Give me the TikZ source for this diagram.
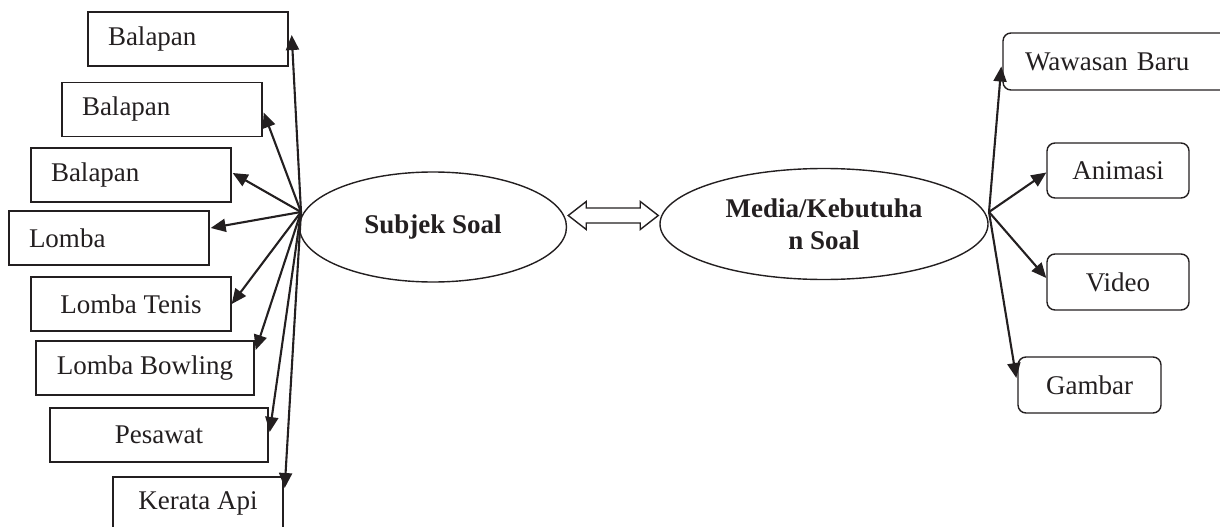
\documentclass[tikz,border=0pt]{standalone}
\usepackage{fontspec}
\setmainfont{Liberation Serif}
\usetikzlibrary{arrows.meta,calc,shapes.geometric}
\definecolor{ink}{RGB}{35,31,32}
\begin{document}
\begin{tikzpicture}[x=1pt,y=-1pt,
  font=\fontsize{27}{32}\selectfont,
  box/.style={draw=ink, line width=1.4pt, inner sep=0pt, text=ink},
  lbox/.style={box, inner xsep=20pt, inner ysep=0pt, align=left, text width=160pt, minimum height=54pt},
  cbox/.style={box, minimum height=54pt},
  rbox/.style={box, rounded corners=8pt, minimum height=56pt},
  oval/.style={ellipse, draw=ink, line width=1.4pt, inner sep=0pt, text=ink, font=\fontsize{27}{32}\selectfont\bfseries, align=center},
  arr/.style={draw=ink, line width=2.1pt, -{Triangle[length=15pt,width=13pt]}},
  hollow/.style={draw=ink, line width=1.4pt, fill=white}]
\useasboundingbox (0,0) rectangle (1220,527);
\clip (0,0) rectangle (1220,527);

% central ellipses
\node[oval, minimum width=267pt, minimum height=110pt] (s) at (433,227) {Subjek Soal};
\node[oval, minimum width=328pt, minimum height=111pt] (m) at (824,224) {Media/Kebutuha\\n Soal};

% double arrow between ellipses
\coordinate (dac) at ($(s.east)!0.5!(m.west)+(0,-10)$);
\draw[hollow] ($(dac)+(-45,0)$) -- ++(18,-14) -- ++(0,6.5) -- ++(54,0) -- ++(0,-6.5)
  -- ++(18,14) -- ++(-18,14) -- ++(0,-6.5) -- ++(-54,0) -- ++(0,6.5) -- cycle;

% left boxes
\node[lbox] (b1) at (188,39) {Balapan};
\node[lbox] (b2) at (162,109.5) {Balapan};
\node[lbox] (b3) at (131,175) {Balapan};
\node[lbox] (lomba) at (109,238) {Lomba};
\node[cbox, minimum width=200pt] (tenis) at (131,304) {Lomba Tenis};
\node[cbox, minimum width=218pt] (bowling) at (145,368) {Lomba Bowling};
\node[cbox, minimum width=218pt] (pesawat) at (159,435) {Pesawat};
\node[cbox, minimum width=170pt, minimum height=52pt] (kerata) at (198,503) {Kerata Api};

% right boxes
\node[rbox, inner xsep=22pt, align=left, text width=193pt, minimum height=57pt] (wawasan) at (1121.5,61.5) {Wawasan Baru};
\node[rbox, minimum width=142pt, minimum height=55pt] (animasi) at (1118,170.5) {Animasi};
\node[rbox, minimum width=142pt] (video) at (1118,282) {Video};
\node[rbox, minimum width=143pt] (gambar) at (1089.5,385) {Gambar};

% hubs
\coordinate (hubL) at (301,212);
\coordinate (hubR) at (989,212);

% left connectors
\draw[arr] (hubL) -- ($(b1.east)+(3,-4)$);
\draw[arr] (hubL) -- ($(b2.east)+(1,3)$);
\draw[arr] (hubL) -- ($(b3.east)+(1,-2)$);
\draw[arr] (hubL) -- ($(lomba.east)+(1,-10)$);
\draw[arr] (hubL) -- (tenis.east);
\draw[arr] (hubL) -- ($(bowling.east)+(1,-18)$);
\draw[arr] (hubL) -- ($(pesawat.east)+(1,-3)$);
\draw[arr] (hubL) -- ($(kerata.east)+(1,-15)$);

% right connectors
\draw[arr] (hubR) -- ($(wawasan.west)+(-1,5)$);
\draw[arr] (hubR) -- ($(animasi.west)+(0,2)$);
\draw[arr] (hubR) -- ($(video.west)+(0,-4)$);
\draw[arr] (hubR) -- ($(gambar.west)+(-1,-7)$);
\end{tikzpicture}
\end{document}
